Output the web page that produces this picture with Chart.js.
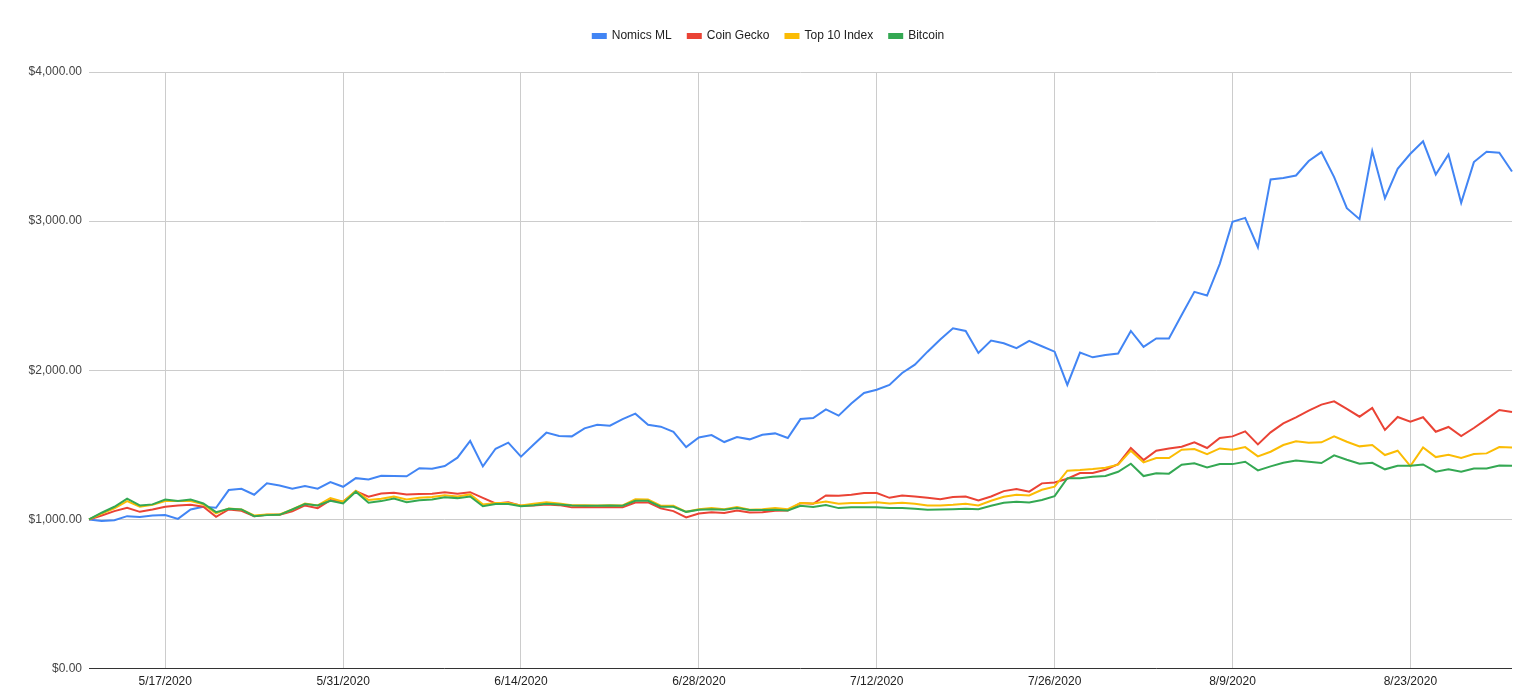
<!DOCTYPE html>
<html>
<head>
<meta charset="utf-8">
<script src="https://cdn.jsdelivr.net/npm/chart.js@4.4.1/dist/chart.umd.min.js"></script>
<style>
  body { margin: 0; background: #fff; }
  #wrap { width: 1537px; height: 697px; position: relative; }
</style>
</head>
<body>
<div id="wrap"><canvas id="chart"></canvas></div>
<script>
const dates = [
  "5/11/2020", "5/12/2020", "5/13/2020", "5/14/2020", "5/15/2020", "5/16/2020", "5/17/2020",
  "5/18/2020", "5/19/2020", "5/20/2020", "5/21/2020", "5/22/2020", "5/23/2020", "5/24/2020",
  "5/25/2020", "5/26/2020", "5/27/2020", "5/28/2020", "5/29/2020", "5/30/2020", "5/31/2020",
  "6/1/2020", "6/2/2020", "6/3/2020", "6/4/2020", "6/5/2020", "6/6/2020", "6/7/2020",
  "6/8/2020", "6/9/2020", "6/10/2020", "6/11/2020", "6/12/2020", "6/13/2020", "6/14/2020",
  "6/15/2020", "6/16/2020", "6/17/2020", "6/18/2020", "6/19/2020", "6/20/2020", "6/21/2020",
  "6/22/2020", "6/23/2020", "6/24/2020", "6/25/2020", "6/26/2020", "6/27/2020", "6/28/2020",
  "6/29/2020", "6/30/2020", "7/1/2020", "7/2/2020", "7/3/2020", "7/4/2020", "7/5/2020",
  "7/6/2020", "7/7/2020", "7/8/2020", "7/9/2020", "7/10/2020", "7/11/2020", "7/12/2020",
  "7/13/2020", "7/14/2020", "7/15/2020", "7/16/2020", "7/17/2020", "7/18/2020", "7/19/2020",
  "7/20/2020", "7/21/2020", "7/22/2020", "7/23/2020", "7/24/2020", "7/25/2020", "7/26/2020",
  "7/27/2020", "7/28/2020", "7/29/2020", "7/30/2020", "7/31/2020", "8/1/2020", "8/2/2020",
  "8/3/2020", "8/4/2020", "8/5/2020", "8/6/2020", "8/7/2020", "8/8/2020", "8/9/2020",
  "8/10/2020", "8/11/2020", "8/12/2020", "8/13/2020", "8/14/2020", "8/15/2020", "8/16/2020",
  "8/17/2020", "8/18/2020", "8/19/2020", "8/20/2020", "8/21/2020", "8/22/2020", "8/23/2020",
  "8/24/2020", "8/25/2020", "8/26/2020", "8/27/2020", "8/28/2020", "8/29/2020", "8/30/2020",
  "8/31/2020"
]

// dates that get a label + vertical grid line
const tickDates = ["5/17/2020", "5/31/2020", "6/14/2020", "6/28/2020", "7/12/2020", "7/26/2020", "8/9/2020", "8/23/2020"]

const nomics = [
  1000, 989, 995, 1022, 1016, 1027, 1029, 1004, 1067, 1085, 1078, 1197, 1206, 1166, 1242, 1228, 1206, 1224, 1206, 1251,
  1219, 1277, 1268, 1293, 1291, 1289, 1344, 1340, 1358, 1414, 1526, 1356, 1474, 1515, 1421, 1503, 1582, 1559, 1557,
  1611, 1635, 1629, 1673, 1709, 1635, 1622, 1588, 1485, 1550, 1566, 1519, 1553, 1537, 1568, 1577, 1546, 1673, 1680,
  1738, 1696, 1778, 1848, 1870, 1902, 1982, 2038, 2125, 2206, 2282, 2264, 2116, 2199, 2181, 2148, 2197, 2161, 2125, 1902,
  2119, 2087, 2103, 2112, 2264, 2157, 2213, 2213, 2371, 2526, 2501, 2714, 2995, 3022, 2825, 3280, 3290,
  3306, 3403, 3463, 3295, 3087, 3013, 3470, 3154, 3351, 3452, 3535, 3313, 3447, 3123, 3396, 3465, 3459, 3333
]

const coinGecko = [
  1000, 1027, 1056, 1078, 1051, 1067, 1085, 1094, 1098, 1085, 1018, 1067, 1058, 1022, 1031, 1031, 1054, 1094, 1076, 1130,
  1119, 1190, 1152, 1174, 1179, 1168, 1170, 1172, 1183, 1172, 1183, 1145, 1107, 1116, 1092, 1094, 1101, 1096, 1081,
  1083, 1081, 1083, 1081, 1114, 1114, 1074, 1056, 1013, 1040, 1049, 1043, 1060, 1047, 1049, 1058, 1060, 1110, 1105,
  1161, 1159, 1166, 1177, 1177, 1145, 1161, 1154, 1145, 1136, 1150, 1154, 1128, 1154, 1190, 1204, 1186, 1242, 1248, 1273,
  1311, 1311, 1333, 1371, 1479, 1398, 1461, 1476, 1488, 1517, 1479, 1546, 1557, 1591, 1503, 1584, 1644,
  1685, 1729, 1770, 1792, 1741, 1689, 1747, 1600, 1687, 1656, 1685, 1588, 1620, 1559, 1613, 1673, 1734, 1720
]

const top10 = [
  1000, 1040, 1075, 1123, 1085, 1098, 1123, 1123, 1123, 1101, 1040, 1074, 1067, 1027, 1034, 1034, 1067, 1107, 1094, 1143,
  1119, 1192, 1130, 1139, 1154, 1134, 1145, 1150, 1163, 1154, 1168, 1101, 1110, 1110, 1094, 1105, 1116, 1107, 1096,
  1096, 1094, 1096, 1094, 1136, 1134, 1092, 1092, 1051, 1069, 1076, 1069, 1083, 1065, 1069, 1076, 1069, 1110, 1107,
  1121, 1105, 1110, 1110, 1116, 1107, 1112, 1105, 1094, 1094, 1098, 1105, 1094, 1125, 1152, 1166, 1161, 1199, 1220, 1327,
  1331, 1338, 1347, 1367, 1461, 1383, 1412, 1412, 1468, 1472, 1438, 1476, 1468, 1485, 1423, 1454, 1499,
  1524, 1515, 1517, 1557, 1521, 1490, 1499, 1432, 1461, 1358, 1483, 1418, 1434, 1412, 1439, 1443, 1485, 1483
]

const bitcoin = [
  1000, 1045, 1085, 1139, 1094, 1101, 1134, 1123, 1134, 1107, 1049, 1072, 1067, 1022, 1029, 1031, 1067, 1103, 1094, 1125,
  1107, 1186, 1112, 1123, 1141, 1116, 1128, 1134, 1148, 1143, 1154, 1089, 1103, 1103, 1089, 1096, 1105, 1101, 1094,
  1092, 1092, 1094, 1092, 1125, 1125, 1085, 1085, 1051, 1065, 1069, 1065, 1076, 1063, 1063, 1065, 1060, 1092, 1083,
  1096, 1076, 1081, 1081, 1081, 1076, 1076, 1072, 1065, 1067, 1069, 1072, 1069, 1092, 1112, 1119, 1114, 1130, 1156, 1277,
  1277, 1286, 1291, 1320, 1374, 1291, 1309, 1307, 1367, 1376, 1349, 1371, 1371, 1387, 1329, 1356, 1380,
  1395, 1387, 1378, 1430, 1400, 1374, 1380, 1336, 1360, 1360, 1369, 1320, 1336, 1320, 1342, 1342, 1362, 1360
]

const seriesNames = ["Nomics ML", "Coin Gecko", "Top 10 Index", "Bitcoin"]
const seriesColors = ["#4285F4", "#EA4335", "#FBBC04", "#34A853"]
const seriesData = [nomics, coinGecko, top10, bitcoin]

const yTicks = [0, 1000, 2000, 3000, 4000]

Chart.defaults.font.family = "Arial, 'Liberation Sans', sans-serif"
Chart.defaults.font.size = 12

// push the plot down a bit below the legend
const legendGap = {
  id: "legendGap",
  beforeInit(chart) {
    const fit = chart.legend.fit
    chart.legend.fit = function () {
      fit.call(this)
      this.height += 20
    }
  }
}

const ctx = document.getElementById("chart")

new Chart(ctx, {
  type: "line",
  plugins: [legendGap],
  data: {
    labels: dates,
    datasets: seriesData.map((d, i) => ({
      label: seriesNames[i],
      data: d,
      borderColor: seriesColors[i],
      backgroundColor: seriesColors[i],
      borderWidth: 2,
      pointRadius: 0,
      tension: 0,
      order: seriesData.length - i   // later series drawn on top
    }))
  },
  options: {
    responsive: true,
    maintainAspectRatio: false,
    devicePixelRatio: 1,
    animation: false,
    layout: {
      padding: { top: 14, right: 0, left: 0, bottom: 2 }
    },
    plugins: {
      legend: {
        position: "top",
        labels: {
          boxWidth: 13,
          boxHeight: 4,
          padding: 16,
          color: "#222",
          font: { size: 12 },
          sort: (a, b) => a.datasetIndex - b.datasetIndex
        }
      },
      tooltip: { enabled: false }
    },
    scales: {
      x: {
        border: { display: false },
        grid: {
          drawTicks: false,
          color: c => tickDates.includes(dates[c.index]) ? "#cccccc" : "rgba(0,0,0,0)"
        },
        ticks: {
          autoSkip: false,
          maxRotation: 0,
          minRotation: 0,
          padding: 6,
          color: "#222",
          callback: (v, i) => tickDates.includes(dates[i]) ? dates[i] : ""
        }
      },
      y: {
        min: 0,
        max: 4000,
        border: { display: false },
        afterFit: scale => { scale.width = 89 },
        afterBuildTicks: scale => { scale.ticks = yTicks.map(v => ({ value: v })) },
        grid: {
          drawTicks: false,
          color: c => c.tick.value === 0 ? "#333333" : "#cccccc"
        },
        ticks: {
          padding: 7,
          color: "#444",
          callback: v => "$" + Number(v).toLocaleString("en-US", { minimumFractionDigits: 2, maximumFractionDigits: 2 })
        }
      },
      // empty axis on the right, only to keep the right margin
      yRight: {
        position: "right",
        min: 0,
        max: 4000,
        border: { display: false },
        grid: { display: false },
        ticks: { display: false },
        afterFit: scale => { scale.width = 25 }
      }
    }
  }
})
</script>
</body>
</html>
